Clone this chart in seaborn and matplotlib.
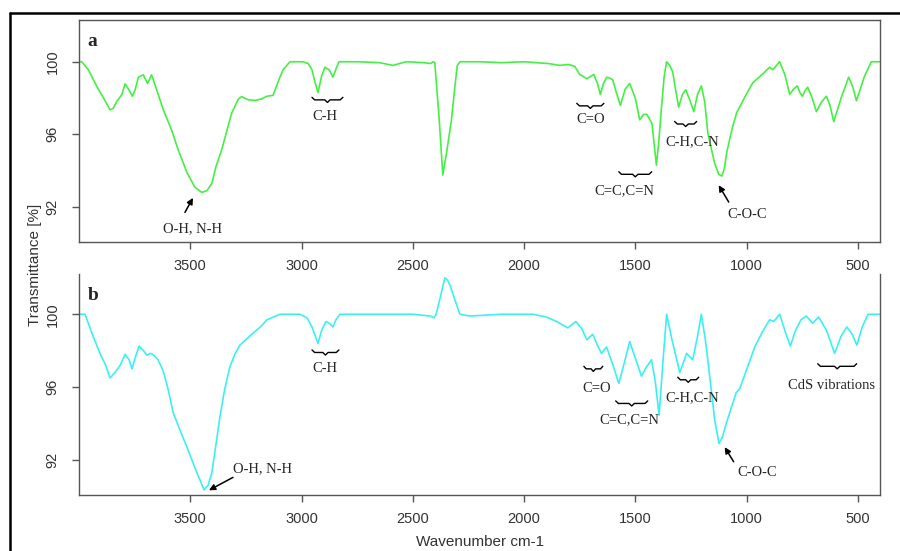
import matplotlib
matplotlib.use("Agg")
import matplotlib.pyplot as plt
from matplotlib.lines import Line2D
import seaborn as sns

# panel a spectrum (green)
wn_a = [4000, 3988, 3958, 3920, 3898, 3876, 3861, 3846, 3831, 3808, 3793, 3778, 3760, 3748,
        3733, 3711, 3692, 3674, 3656, 3621, 3584, 3554, 3515, 3480, 3448, 3425, 3403, 3385,
        3359, 3314, 3284, 3269, 3239, 3209, 3180, 3155, 3128, 3105, 3083, 3052, 2994, 2970,
        2953, 2940, 2926, 2910, 2895, 2875, 2859, 2845, 2832, 2750, 2650, 2589, 2530, 2450,
        2420, 2410, 2401, 2381, 2365, 2348, 2326, 2311, 2300, 2288, 2200, 2100, 2000, 1943,
        1890, 1839, 1800, 1772, 1750, 1735, 1718, 1700, 1686, 1670, 1657, 1643, 1629, 1615,
        1601, 1585, 1567, 1545, 1525, 1500, 1480, 1463, 1448, 1425, 1405, 1395, 1383, 1370,
        1359, 1345, 1332, 1318, 1305, 1288, 1273, 1255, 1237, 1220, 1203, 1188, 1174, 1158,
        1143, 1125, 1111, 1100, 1089, 1065, 1044, 1010, 972, 930, 896, 882, 865, 851, 828,
        806, 788, 772, 760, 749, 737, 725, 705, 686, 662, 641, 625, 608, 575, 541, 522, 506,
        470, 439, 420, 400]
t_a = [100.0, 100.0, 99.56, 98.64, 98.18, 97.7, 97.35, 97.44, 97.8, 98.18, 98.78, 98.5, 98.1,
       98.45, 99.15, 99.28, 98.8, 99.28, 98.64, 97.35, 96.24, 95.14, 93.9, 93.1, 92.8, 92.9,
       93.3, 94.2, 95.14, 97.17, 97.94, 98.08, 97.9, 97.87, 97.95, 98.1, 98.15, 98.9, 99.56,
       100.0, 100.0, 99.9, 99.56, 98.9, 98.3, 99.2, 99.7, 99.55, 99.15, 99.6, 100.0, 100.0,
       99.95, 99.8, 100.0, 99.95, 99.9, 100.0, 99.96, 96.8, 93.76, 95.0, 96.8, 98.6, 99.8,
       100.0, 100.0, 99.95, 100.0, 99.95, 99.9, 99.8, 99.85, 99.75, 99.3, 99.2, 99.06, 99.2,
       99.3, 98.8, 98.2, 98.8, 99.15, 99.1, 99.0, 98.3, 97.6, 98.5, 98.8, 98.0, 96.8, 97.1,
       97.1, 96.6, 94.3, 95.5, 97.35, 99.2, 100.0, 99.8, 99.45, 98.4, 97.5, 98.2, 98.45, 97.9,
       97.25, 98.2, 98.67, 97.8, 96.1, 95.2, 94.4, 93.8, 93.7, 94.1, 95.0, 96.3, 97.2, 98.0,
       98.84, 99.3, 99.7, 99.56, 99.8, 100.0, 99.3, 98.2, 98.5, 98.67, 98.3, 98.1, 98.4, 98.6,
       98.0, 97.25, 97.8, 98.1, 97.6, 96.7, 98.0, 99.15, 98.6, 97.85, 99.2, 100.0, 100.0, 100.0]

# panel b spectrum (cyan)
wn_b = [4000, 3973, 3940, 3906, 3880, 3861, 3838, 3815, 3793, 3775, 3762, 3745, 3730, 3710,
        3695, 3680, 3668, 3645, 3622, 3600, 3577, 3545, 3515, 3480, 3438, 3420, 3403, 3385,
        3367, 3345, 3322, 3300, 3277, 3250, 3218, 3185, 3155, 3097, 3007, 2975, 2953, 2926,
        2910, 2890, 2875, 2859, 2845, 2827, 2700, 2600, 2500, 2420, 2405, 2395, 2375, 2356,
        2345, 2333, 2311, 2288, 2243, 2100, 1960, 1900, 1853, 1803, 1767, 1740, 1718, 1691,
        1670, 1652, 1629, 1600, 1574, 1550, 1525, 1500, 1472, 1450, 1427, 1410, 1393, 1375,
        1359, 1335, 1300, 1269, 1242, 1220, 1203, 1185, 1165, 1143, 1124, 1110, 1091, 1065,
        1046, 1031, 1001, 963, 930, 896, 878, 851, 825, 803, 780, 755, 731, 703, 676, 640,
        604, 575, 549, 525, 504, 480, 454, 400]
t_b = [100.0, 100.0, 98.9, 97.85, 97.2, 96.5, 96.8, 97.2, 97.8, 97.5, 97.0, 97.7, 98.25, 98.0,
       97.75, 97.85, 97.8, 97.5, 96.9, 95.9, 94.6, 93.6, 92.7, 91.6, 90.35, 90.6, 91.3, 92.8,
       94.35, 95.9, 97.1, 97.8, 98.3, 98.6, 98.96, 99.3, 99.7, 100.0, 100.0, 99.8, 99.3, 98.4,
       99.1, 99.6, 99.5, 99.3, 99.7, 100.0, 100.0, 100.0, 100.0, 99.9, 99.8, 100.0, 101.0,
       102.0, 101.9, 101.6, 100.8, 100.0, 99.9, 100.0, 100.0, 99.85, 99.6, 99.25, 99.6, 99.2,
       98.6, 98.9, 98.3, 97.85, 98.2, 97.2, 96.2, 97.3, 98.5, 97.6, 96.6, 97.1, 97.5, 96.3,
       94.45, 97.5, 100.0, 98.6, 96.8, 97.85, 97.5, 98.8, 100.0, 98.6, 96.55, 94.2, 92.9,
       93.2, 94.0, 95.0, 95.7, 95.9, 96.9, 98.2, 99.0, 99.7, 99.6, 100.0, 99.0, 98.25, 99.1,
       99.7, 99.9, 99.5, 99.85, 99.1, 97.85, 98.8, 99.3, 98.9, 98.3, 99.3, 100.0, 100.0]

# band labels
labels_a = ["C-H", "O-H, N-H", "C=O", "C=C,C=N", "C-H,C-N", "C-O-C"]
label_wn_a = [2895, 3492, 1700, 1547, 1246, 999]
label_t_a = [97.0, 90.8, 96.8, 92.9, 95.6, 91.6]
braces_a = [(2953, 2814, 97.9), (1763, 1641, 97.57), (1574, 1426, 93.8), (1323, 1224, 96.57)]
arrows_a = [((3524, 91.7), (3488, 92.5)), ((1080, 92.27), (1125, 93.2))]

labels_b = ["C-H", "O-H, N-H", "C=O", "C=C,C=N", "C-H,C-N", "C-O-C", "CdS vibrations"]
label_wn_b = [2895, 3174, 1673, 1525, 1242, 950, 617]
label_t_b = [97.0, 91.5, 95.9, 94.2, 95.4, 91.3, 96.1]
braces_b = [(2953, 2832, 97.9), (1731, 1646, 97.0), (1588, 1444, 95.1), (1309, 1215, 96.4),
            (680, 505, 97.14)]
arrows_b = [((3308, 91.04), (3416, 90.33)), ((1058, 91.9), (1098, 92.7))]

xticks = [3500, 3000, 2500, 2000, 1500, 1000, 500]
yticks = [92, 96, 100]

sns.set_style("ticks")
plt.rcParams['font.family'] = ['Liberation Sans', 'DejaVu Sans']
serif = 'Liberation Serif'
grey = '#555555'


def brace(ax, w0, w1, t, h=0.14):
    d = min((w0 - w1) * 0.12, 12)
    m = (w0 + w1) / 2
    xs = [w0, w0 - d, m + d, m, m - d, w1 + d, w1]
    ys = [t + h, t, t, t - h, t, t, t + h]
    ax.plot(xs, ys, color='black', lw=1)


def panel(ax, wn, t, color, letter, labels, lw_, lt_, braces, arrows, ylim, top=True):
    sns.lineplot(x=wn, y=t, ax=ax, color=color, linewidth=1.2)
    ax.set_xlim(4000, 400)
    ax.set_ylim(*ylim)
    ax.set_xticks(xticks)
    ax.set_yticks(yticks)
    ax.set_xlabel('')
    ax.set_ylabel('')
    ax.tick_params(axis='x', length=5, width=1, color=grey, pad=7, labelsize=10.5,
                   labelcolor='#333333')
    ax.tick_params(axis='y', length=5, width=1, color=grey, pad=9, labelsize=10.5,
                   labelcolor='#333333', labelrotation=90)
    for lab in ax.get_yticklabels():
        lab.set_verticalalignment('center')
    for s in ax.spines.values():
        s.set_color(grey)
        s.set_linewidth(1)
    ax.spines['top'].set_visible(top)
    ax.text(0.011, 0.905, letter, transform=ax.transAxes, ha='left', va='center',
            fontsize=14, fontweight='bold', family=serif)
    for txt, x, y in zip(labels, lw_, lt_):
        ax.text(x, y, txt, ha='center', va='center', fontsize=10.5, family=serif)
    for w0, w1, y in braces:
        brace(ax, w0, w1, y)
    for tail, head in arrows:
        ax.annotate('', xy=head, xytext=tail,
                    arrowprops=dict(arrowstyle='-|>', color='black', lw=1.1,
                                    mutation_scale=9, shrinkA=0, shrinkB=0))


fig = plt.figure(figsize=(9, 5.51), dpi=100)
ax1 = fig.add_axes([0.0878, 0.5608, 0.890, 0.4029])
ax2 = fig.add_axes([0.0878, 0.1016, 0.890, 0.4011])

panel(ax1, wn_a, t_a, '#44f044', 'a', labels_a, label_wn_a, label_t_a, braces_a, arrows_a,
      (90.07, 102.3))
panel(ax2, wn_b, t_b, '#3cf0f0', 'b', labels_b, label_wn_b, label_t_b, braces_b, arrows_b,
      (90.07, 102.21), top=False)

fig.text(0.039, 1 - 265 / 551, 'Transmittance [%]', rotation=90, ha='center', va='center',
         fontsize=11, color='#333333')
fig.text(480 / 900, 1 - 542 / 551, 'Wavenumber cm-1', ha='center', va='center',
         fontsize=11, color='#333333')

# outer frame, cut off at right and bottom
fig.add_artist(Line2D([10 / 900, 1.0], [1 - 13 / 551, 1 - 13 / 551], color='black', lw=1.8,
                      transform=fig.transFigure))
fig.add_artist(Line2D([10 / 900, 10 / 900], [0.0, 1 - 13 / 551], color='black', lw=1.8,
                      transform=fig.transFigure))

fig.savefig('out.png', dpi=100)
